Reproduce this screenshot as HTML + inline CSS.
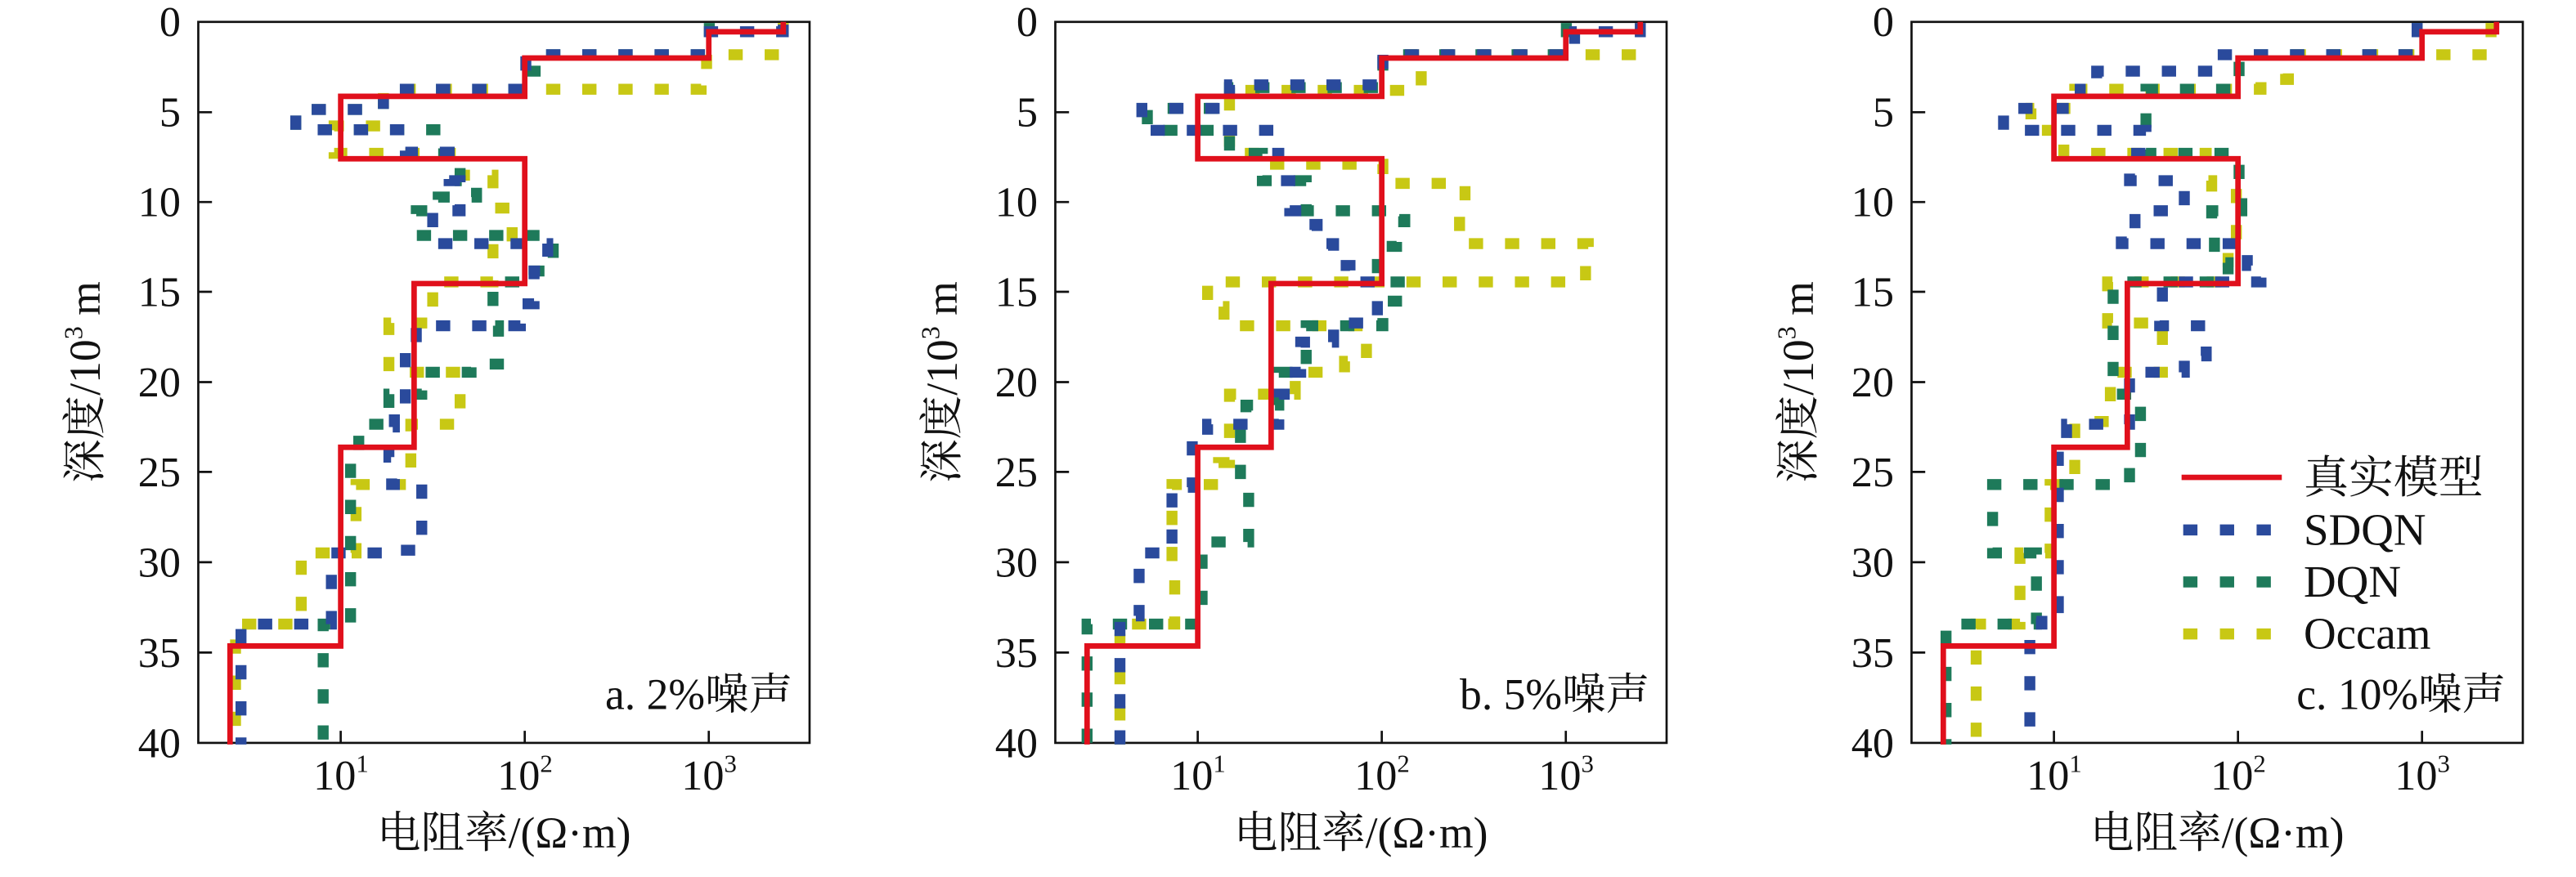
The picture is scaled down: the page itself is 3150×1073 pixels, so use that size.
<!DOCTYPE html>
<html><head><meta charset="utf-8"><style>
html,body{margin:0;padding:0;background:#fff;}
svg{display:block;}
text{font-family:"Liberation Serif","Noto Serif CJK SC","Noto Sans CJK SC",serif;fill:#111;}
</style></head><body>
<svg width="3150" height="1073" viewBox="0 0 3150 1073" xmlns="http://www.w3.org/2000/svg">
<rect width="3150" height="1073" fill="#fff"/>
<defs>
<g id="axes">
  <rect x="362" y="40" width="1116" height="1317" fill="none" stroke="#111" stroke-width="4"/>
  <g stroke="#111" stroke-width="4">
    <path d="M362,205h25M362,369h25M362,533h25M362,698h25M362,862h25M362,1027h25M362,1192h25"/>
    <path d="M622,1357v-22M958,1357v-22M1294,1357v-22"/>
  </g>
  <g font-size="78" text-anchor="end">
    <text x="330" y="66">0</text><text x="330" y="231">5</text><text x="330" y="395">10</text>
    <text x="330" y="559">15</text><text x="330" y="724">20</text><text x="330" y="888">25</text>
    <text x="330" y="1053">30</text><text x="330" y="1218">35</text><text x="330" y="1383">40</text>
  </g>
  <g font-size="78">
    <text x="572" y="1442">10<tspan font-size="46" dy="-32">1</tspan></text>
    <text x="908" y="1442">10<tspan font-size="46" dy="-32">2</tspan></text>
    <text x="1244" y="1442">10<tspan font-size="46" dy="-32">3</tspan></text>
  </g>
  <text x="920" y="1548" font-size="80" text-anchor="middle">电阻率/(Ω·m)</text>
  <text transform="translate(182,698) rotate(-90)" font-size="80" text-anchor="middle">深度/10<tspan font-size="48" dy="-32">3</tspan><tspan dy="32"> m</tspan></text>
</g>
</defs>

<!-- Panel a -->
<g transform="scale(0.6698)">
  <use href="#axes"/>
  <g fill="none" stroke-width="20" stroke-dasharray="26 40">
    <path stroke="#c8c814" d="M1430,42 V100 H1290 V135 H1280 V163 H700 V230 H610 V280 H840 V320 H900 V380 H935 V445 H900 V515 H790 V590 H710 V680 H840 V775 H750 V885 H650 V1010 H550 V1140 H430 V1360"/>
    <path stroke="#1e7a5a" d="M1295,42 V100 H990 V130 H960 V163 H700 V200 H540 V237 H810 V280 H840 V330 H870 V360 H800 V385 H760 V430 H1010 V495 H975 V515 H900 V595 H910 V665 H860 V680 H770 V720 H710 V775 H655 V845 H640 V1005 H640 V1140 H590 V1360"/>
    <path stroke="#2a4a9c" d="M1430,45 V58 H1295 V100 H960 V163 H700 V200 H540 V237 H740 V278 H820 V330 H840 V385 H790 V445 H1000 V495 H975 V555 H950 V595 H760 V640 H740 V740 H720 V780 H710 V835 H715 V885 H770 V1005 H700 V1010 H605 V1140 H440 V1360"/>
  </g>
  <path d="M1430,40 V58 H1294 V106 H958 V176 H622 V290 H958 V518 H756 V817 H622 V1180 H420 V1360" fill="none" stroke="#e0101c" stroke-width="10"/>
  <text x="1447" y="1295" font-size="80" text-anchor="end">a. 2%噪声</text>
</g>

<!-- Panel b -->
<g transform="translate(1048,0) scale(0.6698)">
  <use href="#axes"/>
  <g fill="none" stroke-width="20" stroke-dasharray="26 40">
    <path stroke="#c8c814" d="M1430,42 V100 H1010 V130 H1030 V165 H680 V198 H680 V280 H740 V300 H960 V335 H1110 V385 H1100 V445 H1335 V475 H1330 V515 H640 V560 H670 V595 H930 V660 H890 V680 H800 V720 H680 V845 H660 V885 H575 V1040 H580 V1140 H480 V1360"/>
    <path stroke="#1e7a5a" d="M1295,42 V100 H960 V160 H680 V198 H530 V238 H680 V280 H740 V330 H820 V385 H1000 V405 H985 V450 H950 V515 H1000 V550 H960 V595 H820 V680 H770 V740 H710 V775 H700 V885 H715 V990 H630 V1140 H420 V1360"/>
    <path stroke="#2a4a9c" d="M1430,42 V58 H1310 V80 H1295 V100 H960 V155 H680 V198 H520 V238 H750 V280 H770 V330 H790 V385 H820 V410 H840 V445 H870 V485 H900 V515 H950 V590 H870 V625 H810 V680 H780 V720 H770 V775 H640 V800 H612 V890 H575 V1010 H515 V1125 H480 V1360"/>
  </g>
  <path d="M1430,40 V58 H1294 V106 H958 V176 H622 V290 H958 V518 H756 V817 H622 V1180 H420 V1360" fill="none" stroke="#e0101c" stroke-width="10"/>
  <text x="1447" y="1295" font-size="80" text-anchor="end">b. 5%噪声</text>
</g>

<!-- Panel c -->
<g transform="translate(2095,0) scale(0.6698)">
  <use href="#axes"/>
  <g fill="none" stroke-width="20" stroke-dasharray="26 40">
    <path stroke="#c8c814" d="M1420,42 V100 H1050 V145 H1000 V163 H660 V198 H580 V238 H640 V280 H900 V330 H910 V355 H955 V445 H940 V515 H720 V590 H820 V680 H725 V770 H660 V885 H615 V1010 H560 V1140 H480 V1360"/>
    <path stroke="#1e7a5a" d="M1285,42 V100 H960 V163 H790 V280 H960 V330 H965 V385 H910 V430 H915 V480 H940 V515 H730 V600 H730 V720 H780 V850 H760 V885 H510 V1010 H590 V1140 H425 V1360"/>
    <path stroke="#2a4a9c" d="M1285,42 V100 H920 V130 H700 V163 H670 V198 H530 V238 H790 V280 H760 V330 H860 V385 H770 V420 H745 V445 H975 V485 H1000 V515 H820 V555 H815 V595 H900 V650 H860 V680 H760 V775 H645 V835 H630 V1110 H600 V1140 H578 V1360"/>
  </g>
  <path d="M1430,40 V58 H1294 V106 H958 V176 H622 V290 H958 V518 H756 V817 H622 V1180 H420 V1360" fill="none" stroke="#e0101c" stroke-width="10"/>
  <!-- legend -->
  <path d="M855,872 H1038" stroke="#e0101c" stroke-width="10"/>
  <path d="M858,968 H1020" stroke="#2a4a9c" stroke-width="20" stroke-dasharray="26 41"/>
  <path d="M858,1063 H1020" stroke="#1e7a5a" stroke-width="20" stroke-dasharray="26 41"/>
  <path d="M858,1158 H1020" stroke="#c8c814" stroke-width="20" stroke-dasharray="26 41"/>
  <g font-size="82">
    <text x="1078" y="900">真实模型</text>
    <text x="1078" y="995">SDQN</text>
    <text x="1078" y="1090">DQN</text>
    <text x="1078" y="1185">Occam</text>
  </g>
  <text x="1447" y="1295" font-size="80" text-anchor="end">c. 10%噪声</text>
</g>
</svg>
</body></html>
